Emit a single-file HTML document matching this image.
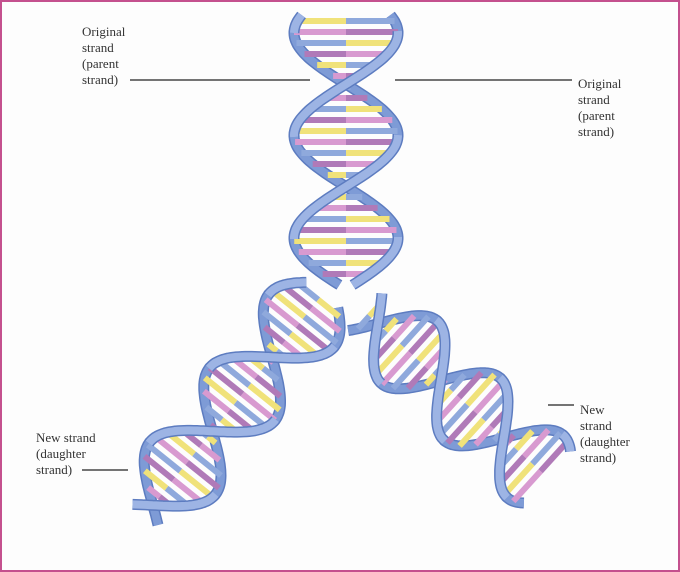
<!DOCTYPE html>
<html><head><meta charset="utf-8"><style>
html,body{margin:0;padding:0;background:#fff}
#f{position:relative;width:676px;height:568px;border:2px solid #c4508e;background:#fdfdfd;overflow:hidden}
.t{position:absolute;font-family:"Liberation Serif",serif;font-size:13px;line-height:16px;color:#333}
svg{position:absolute;left:-2px;top:-2px}
</style></head><body><div id="f">
<svg id="s" width="680" height="572" viewBox="0 0 680 572"></svg>
<div class="t" style="left:80px;top:22px">Original<br>strand<br>(parent<br>strand)</div>
<div class="t" style="left:576px;top:74px">Original<br>strand<br>(parent<br>strand)</div>
<div class="t" style="left:34px;top:428px">New strand<br>(daughter<br>strand)</div>
<div class="t" style="left:578px;top:400px">New<br>strand<br>(daughter<br>strand)</div>
</div>
<script>
var s=document.getElementById('s'),h='';
function helix(ax,ay,bx,by,amp,per,ph){
 var dx=bx-ax,dy=by-ay,L=Math.hypot(dx,dy),ux=dx/L,uy=dy/L,nx=-uy,ny=ux;
 function P(d,o){var a=2*Math.PI*d/per+ph+o;return[ax+ux*d+nx*amp*Math.sin(a),ay+uy*d+ny*amp*Math.sin(a),Math.cos(a)];}
 var cols=[['#8fa9dc','#f0e27a'],['#b07ab8','#d89ad0'],['#f0e27a','#8fa9dc'],['#d89ad0','#b07ab8']];
 var back='',front='',r='',k=0;
 for(var d=6;d<L-4;d+=11){var p=P(d,0),q=P(d,Math.PI),c=cols[k++%4];
  var mx=(p[0]+q[0])/2,my=(p[1]+q[1])/2;
  r+='<line x1="'+p[0]+'" y1="'+p[1]+'" x2="'+mx+'" y2="'+my+'" stroke="'+c[0]+'" stroke-width="6"/>'+
     '<line x1="'+mx+'" y1="'+my+'" x2="'+q[0]+'" y2="'+q[1]+'" stroke="'+c[1]+'" stroke-width="6"/>';}
 [0,Math.PI].forEach(function(o){
  var run=[],side=null;
  function flush(){if(run.length>1){var pts=run.map(function(p){return p[0].toFixed(1)+','+p[1].toFixed(1)}).join(' ');
   var seg='<polyline points="'+pts+'" fill="none" stroke="#5d7cc0" stroke-width="11" stroke-linejoin="round"/>'+
   '<polyline points="'+pts+'" fill="none" stroke="'+(side?'#9db4e4':'#7e9bd6')+'" stroke-width="8" stroke-linejoin="round"/>';
   if(side)front+=seg;else back+=seg;}}
  for(var d=0;d<=L;d+=2){var p=P(d,o),f=p[2]>0;
   if(side===null)side=f;
   if(f!==side){run.push(p);flush();run=[run[run.length-2],p];side=f;}else run.push(p);}
  flush();
 });
 h+=back+r+front;
}
h+='<line x1="130" y1="80" x2="310" y2="80" stroke="#222" stroke-width="1.3"/>';
h+='<line x1="395" y1="80" x2="572" y2="80" stroke="#222" stroke-width="1.3"/>';
h+='<line x1="82" y1="470" x2="128" y2="470" stroke="#222" stroke-width="1.3"/>';
h+='<line x1="548" y1="405" x2="574" y2="405" stroke="#222" stroke-width="1.3"/>';
helix(322,295,145,515,42,190,0.5);
helix(365,312,548,478,42,170,2.5);
helix(346,15,346,285,52,205,-2.12);
s.innerHTML=h;
</script>
</body></html>
